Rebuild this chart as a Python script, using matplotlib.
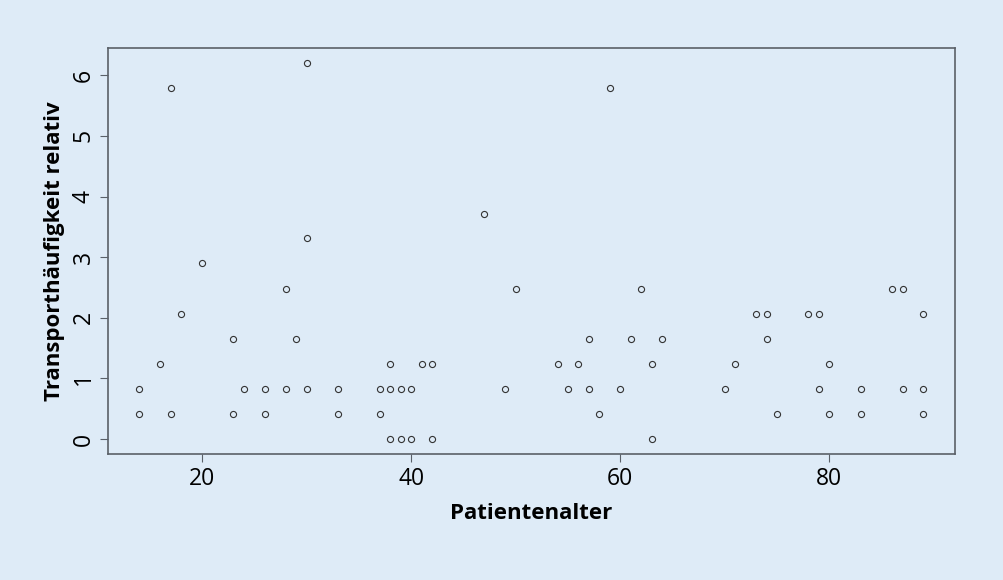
import numpy as np
import matplotlib
matplotlib.use("Agg")
import matplotlib.pyplot as plt

# Patientenalter (x) und relative Transporthaeufigkeit (y)
alter = [14, 14, 16, 17, 17, 18, 20, 23, 23, 24, 26, 26, 28, 28, 29,
         30, 30, 30, 33, 33, 37, 37, 38, 38, 38, 39, 39, 40, 40, 41,
         42, 42, 47, 49, 50, 54, 55, 56, 57, 57, 58, 59, 60, 61, 62,
         63, 63, 64, 70, 71, 73, 74, 74, 75, 78, 79, 79, 80, 80, 83,
         83, 86, 87, 87, 89, 89, 89]
relativ = [0.83, 0.41, 1.24, 5.79, 0.41, 2.07, 2.90, 1.65, 0.41, 0.83, 0.83, 0.41, 2.48, 0.83, 1.65,
           6.20, 3.31, 0.83, 0.83, 0.41, 0.83, 0.41, 1.24, 0.83, 0.00, 0.83, 0.00, 0.83, 0.00, 1.24,
           1.24, 0.00, 3.72, 0.83, 2.48, 1.24, 0.83, 1.24, 1.65, 0.83, 0.41, 5.79, 0.83, 1.65, 2.48,
           1.24, 0.00, 1.65, 0.83, 1.24, 2.07, 2.07, 1.65, 0.41, 2.07, 2.07, 0.83, 1.24, 0.41, 0.83,
           0.41, 2.48, 2.48, 0.83, 2.07, 0.83, 0.41]

bg = "#deebf7"
fam = ["Open Sans", "DejaVu Sans"]

fig = plt.figure(figsize=(10.04, 5.80), dpi=100, facecolor=bg)
ax = fig.add_axes([0.1076, 0.217, 0.8434, 0.7])
ax.set_facecolor(bg)

ax.plot(alter, relativ, linestyle="none", marker="o", markersize=4.4,
        markerfacecolor="none", markeredgecolor="#333333", markeredgewidth=0.8)

ax.set_xlim(11, 92)
ax.set_ylim(-0.248, 6.448)
ax.set_xticks([20, 40, 60, 80])
ax.set_yticks(range(7))

for s in ax.spines.values():
    s.set_color("#5a6068")
    s.set_linewidth(1.2)
ax.tick_params(length=6, width=0.8, color="#5a6068", labelsize=16.5, pad=3)
for lab in ax.get_xticklabels() + ax.get_yticklabels():
    lab.set_family(fam)
for lab in ax.get_yticklabels():
    lab.set_rotation(90)
    lab.set_va("center")

ax.set_xlabel("Patientenalter", fontsize=16, fontweight="bold", family=fam, labelpad=9)
ax.set_ylabel("Transporthäufigkeit relativ", fontsize=16, fontweight="bold", family=fam, labelpad=5)

fig.savefig("out.png", dpi=100, facecolor=bg)
